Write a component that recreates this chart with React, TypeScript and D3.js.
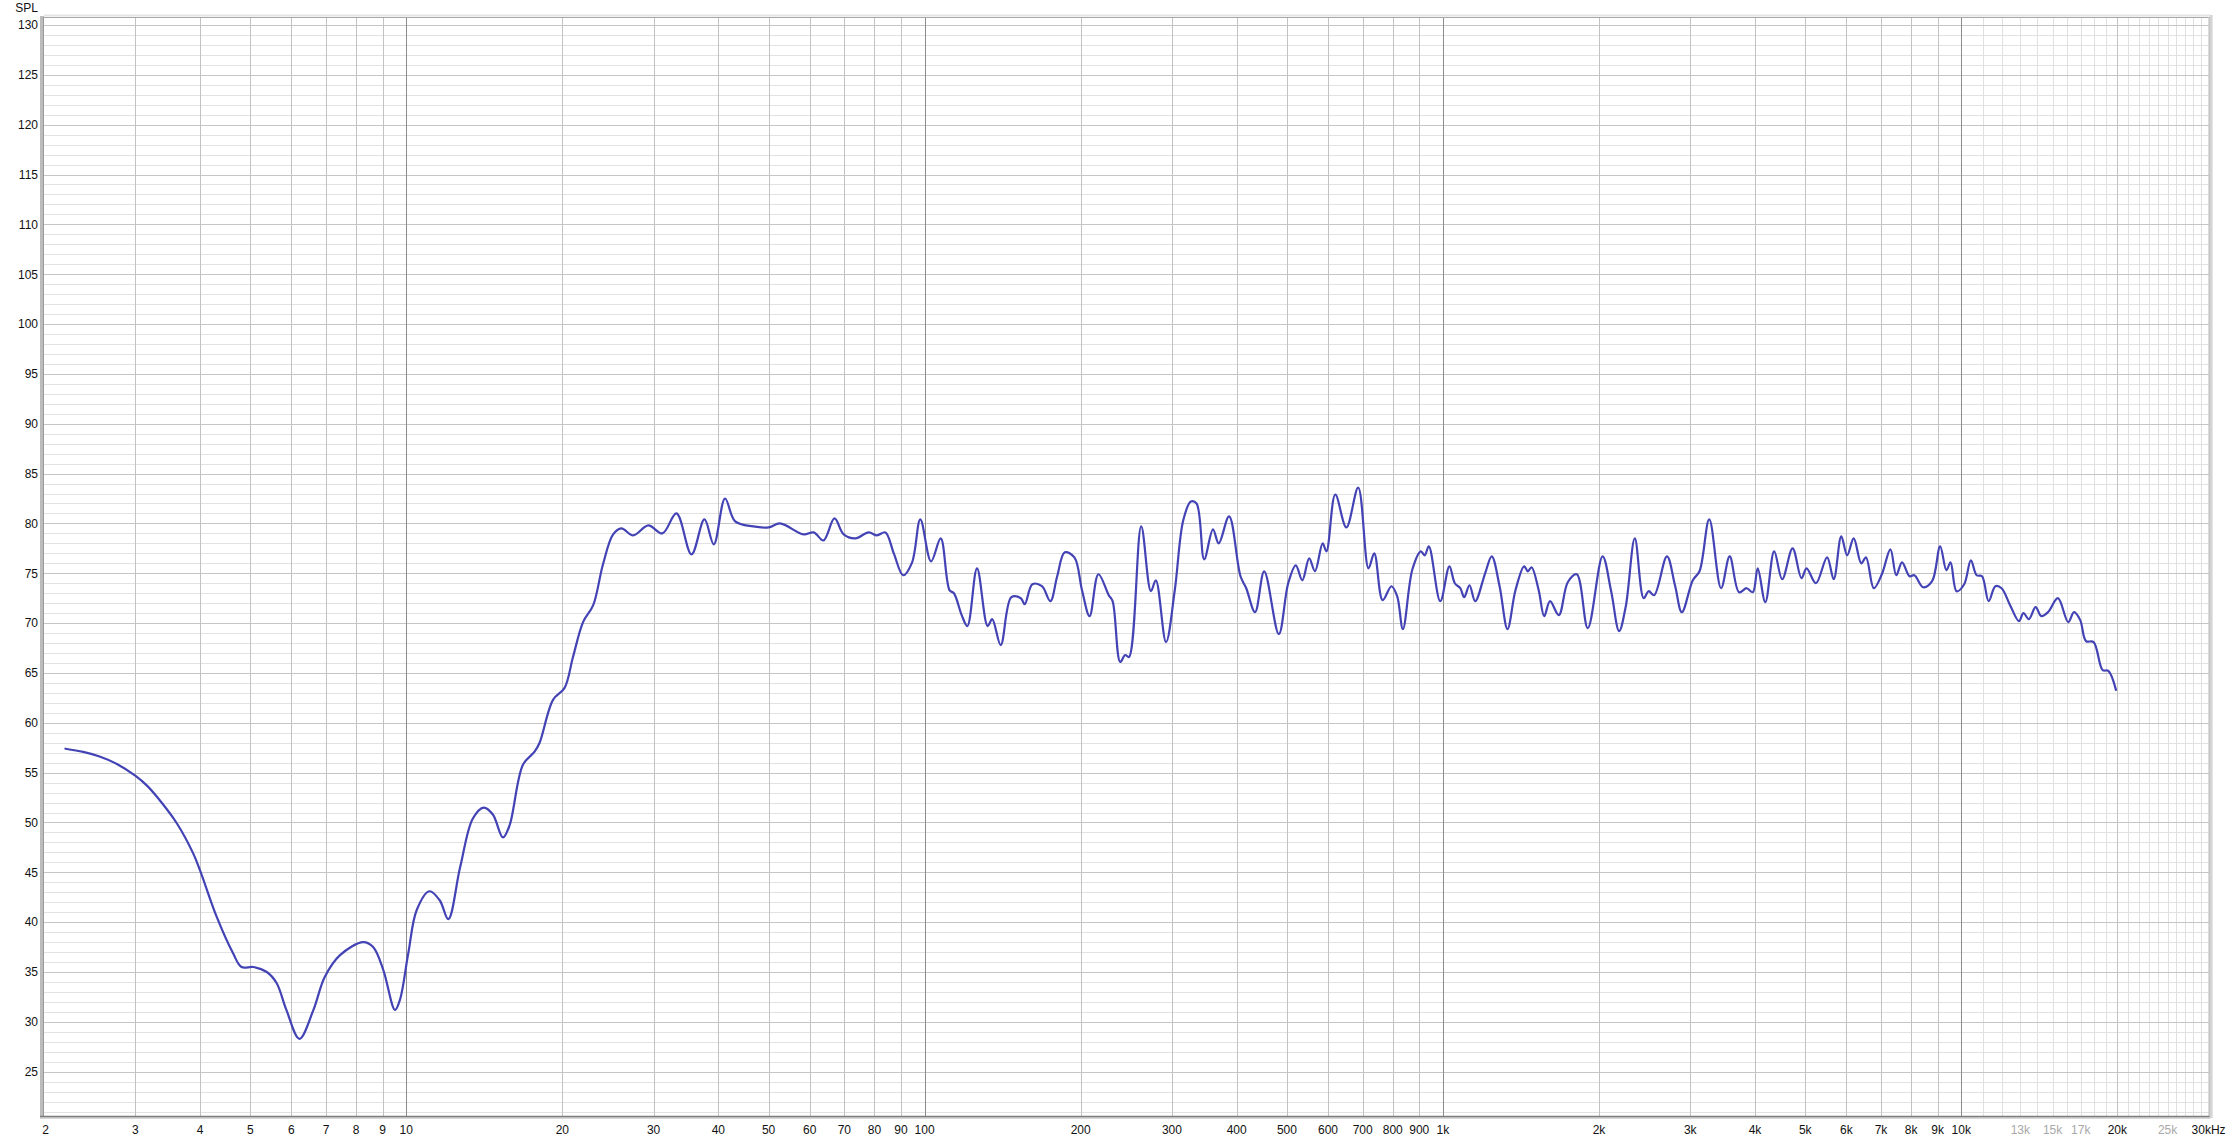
import React from "react";
import * as d3 from "d3";

// Frequency response samples (Hz) and levels (dB SPL)
const freqs: number[] = [
  2.2, 2.38, 2.56, 2.77, 3.0, 3.16, 3.3, 3.61, 3.88, 4.0, 4.31, 4.63, 4.81, 5.07, 5.38, 5.62, 5.87, 6.22, 6.62, 6.96, 7.45, 8.26, 8.63, 9.03, 9.51, 9.72,
  10.09, 10.47, 11.08, 11.6, 12.05, 12.7, 13.44, 14.11, 14.69, 15.36, 15.82, 16.79, 17.68, 18.08, 19.19, 20.2, 20.97, 21.93, 22.94,
  23.96, 25.06, 26.0, 27.4, 29.3, 31.2, 33.2, 35.5, 37.6, 39.2, 41.2, 43.1, 46.7, 50, 52.6, 58.4, 61.1, 63.8, 67.0, 69.8, 73.5,
  78.0, 80.9, 84.0, 87.2, 90.9, 94.6, 98.1, 102.9, 107.4, 111.7, 113.9, 117.9, 120.9, 126.2, 132.3, 135.0, 140.2, 147.0, 153.3,
  156.0, 161.4, 168.4, 174.8, 180.2, 186.4, 194.5, 201.2, 208.1, 216.4, 226.6, 230.5, 238.4, 243.7, 247.9, 261.7, 273.2, 279.3,
  292.2, 303.8, 315.4, 326.3, 334.7, 346.2, 360.0, 369.3, 386.7, 406.8, 417.3, 434.0, 452.0, 482.3, 502.8, 520.1, 535.3, 552.0,
  566.3, 586.0, 596.0, 619.8, 651.1, 686.2, 718.4, 737.0, 765.0, 795.4, 815.9, 836.9, 873.1, 906.5, 921.9, 939.2, 988.1,
  1029, 1054, 1080, 1099, 1125, 1154, 1206, 1242, 1286, 1332, 1380, 1434, 1458, 1482, 1530, 1568, 1609, 1673, 1741, 1812, 1903,
  2032, 2111, 2187, 2253, 2345, 2439, 2494, 2555, 2705, 2803, 2890, 3034, 3126, 3264, 3440, 3574, 3726, 3854, 3961, 4048, 4187,
  4355, 4513, 4726, 4917, 5029, 5242, 5509, 5674, 5867, 6023, 6200, 6413, 6549, 6780, 7027, 7299, 7490, 7686, 7948, 8120, 8442,
  8784, 9104, 9359, 9533, 9794, 10130, 10434, 10708, 10963, 11293, 11634, 11960, 12420, 12920, 13180, 13500, 13910, 14270, 14700,
  15360, 16080, 16500, 16960, 17400, 18000, 18730, 19220, 19880,
];
const spl: number[] = [
  57.4, 57.08, 56.62, 55.85, 54.7, 53.7, 52.6, 49.9, 46.9, 45.2, 40.5, 36.9, 35.5, 35.5, 35.0, 33.9, 31.2, 28.3, 31.2, 34.5, 36.7, 38.0, 37.5, 35.2, 31.2, 32.2,
  36.9, 41.2, 43.1, 42.2, 40.3, 45.5, 50.4, 51.5, 50.8, 48.5, 49.7, 55.8, 57.1, 58.0, 62.3, 63.5, 66.6, 70.1, 71.8,
  75.9, 78.9, 79.5, 78.8, 79.8, 79.0, 81.0, 76.9, 80.4, 77.9, 82.5, 80.2, 79.7, 79.6, 80.0, 78.9, 79.1, 78.3, 80.5, 78.9, 78.5,
  79.1, 78.8, 79.1, 77.0, 74.8, 76.1, 80.4, 76.2, 78.5, 73.3, 73.0, 70.8, 69.7, 75.5, 69.7, 70.4, 67.8, 72.6, 72.5,
  71.9, 73.9, 73.7, 72.2, 74.7, 77.1, 76.6, 73.3, 70.7, 74.9, 72.8, 72.2, 66.1, 66.8, 66.6, 79.7, 73.2, 74.3,
  68.1, 73.3, 80.3, 82.2, 82.0, 76.4, 79.4, 78.0, 80.7, 74.7, 73.5, 71.1, 75.2, 68.9, 74.0, 75.8, 74.3, 76.5,
  75.2, 78.0, 77.2, 82.9, 79.6, 83.6, 75.5, 77.0, 72.3, 73.7, 72.7, 69.4, 75.4, 77.2, 76.8, 77.7, 72.2,
  75.7, 74.0, 73.5, 72.6, 73.8, 72.2, 75.0, 76.7, 73.7, 69.4, 73.3, 75.7, 75.2, 75.6, 73.3, 70.7, 72.2, 70.8, 74.1, 74.9, 69.5,
  76.7, 73.2, 69.2, 71.7, 78.5, 72.5, 73.2, 72.8, 76.7, 73.8, 71.1, 74.3, 75.2, 80.4, 73.5, 76.7, 73.1, 73.5, 73.1, 75.5, 72.1,
  77.2, 74.4, 77.5, 74.5, 75.5, 74.0, 76.6, 74.4, 78.7, 76.8, 78.5, 76.0, 76.6, 73.5, 74.9, 77.4, 74.8, 76.1, 74.7, 74.8, 73.6,
  74.2, 77.7, 75.3, 76.1, 73.2, 73.9, 76.3, 74.8, 74.7, 72.2, 73.7, 73.5, 71.8, 70.2, 71.0, 70.4, 71.6, 70.7, 71.1,
  72.5, 70.1, 71.1, 70.3, 68.2, 68.1, 65.3, 65.2, 63.3,
];

// Axis ticks
const xTickValues: number[] = [
  2, 3, 4, 5, 6, 7, 8, 9, 10, 20, 30, 40, 50, 60, 70, 80, 90, 100, 200, 300, 400, 500, 600, 700, 800, 900, 1000,
  2000, 3000, 4000, 5000, 6000, 7000, 8000, 9000, 10000, 13000, 15000, 17000, 20000, 25000, 30000,
];
const xTickLabels: string[] = [
  "2", "3", "4", "5", "6", "7", "8", "9", "10", "20", "30", "40", "50", "60", "70", "80", "90", "100", "200", "300", "400",
  "500", "600", "700", "800", "900", "1k", "2k", "3k", "4k", "5k", "6k", "7k", "8k", "9k", "10k", "13k", "15k", "17k", "20k",
  "25k", "30kHz",
];
const xGreyLabels: string[] = ["13k", "15k", "17k", "25k"];
const yTickValues: number[] = [25, 30, 35, 40, 45, 50, 55, 60, 65, 70, 75, 80, 85, 90, 95, 100, 105, 110, 115, 120, 125, 130];
const yAxisTitle = "SPL";

const W = 2230;
const H = 1140;
const L = 44;
const R = 2208.6;
const T = 17.3;
const B = 1116;

export default function App() {
  const x = d3.scaleLog().domain([2, 30000]).range([L, R]);
  const y = d3.scaleLinear().domain([25, 130]).range([1071.7, 25]);
  const yBottom = y.invert(B);
  const yTop = y.invert(T);

  // grid lines
  const hMinor: number[] = [];
  const hMajor: number[] = [];
  for (let v = Math.ceil(yBottom); v <= yTop; v++) {
    if (v % 5 === 0) hMajor.push(v);
    else hMinor.push(v);
  }
  const vDecade: number[] = [];
  const vMajor: number[] = [];
  const vMinor: number[] = [];
  for (let d = 1; d <= 10000; d *= 10) {
    for (let m = 1; m <= 9; m++) {
      const f = m * d;
      if (f <= 2 || f >= 30000) continue;
      if (m === 1) vDecade.push(f);
      else vMajor.push(f);
    }
  }
  for (let f = 11000; f < 30000; f += 1000) {
    if (f % 10000 !== 0) vMinor.push(f);
  }

  const pts = freqs.map((f, i) => [f, spl[i]] as [number, number]);
  const line = d3
    .line<[number, number]>()
    .x((d) => x(d[0]))
    .y((d) => y(d[1]))
    .curve(d3.curveCatmullRom.alpha(0.5));

  const font = "'Liberation Sans', Arial, sans-serif";

  return (
    <svg
      width={W}
      height={H}
      style={{ position: "absolute", left: 0, top: 0, background: "#fff" }}
      fontFamily={font}
    >
      <rect x={0} y={0} width={W} height={H} fill="#fff" />
      {/* minor grid */}
      {hMinor.map((v) => (
        <line key={"hm" + v} x1={L} x2={R} y1={Math.round(y(v)) + 0.5} y2={Math.round(y(v)) + 0.5} stroke="#e2e2e2" />
      ))}
      {vMinor.map((f) => (
        <line key={"vm" + f} x1={Math.round(x(f)) + 0.5} x2={Math.round(x(f)) + 0.5} y1={T} y2={B} stroke="#e0e0e0" />
      ))}
      {/* major grid */}
      {hMajor.map((v) => (
        <line key={"hM" + v} x1={L} x2={R} y1={Math.round(y(v)) + 0.5} y2={Math.round(y(v)) + 0.5} stroke="#c6c6c6" />
      ))}
      {vMajor.map((f) => (
        <line key={"vM" + f} x1={Math.round(x(f)) + 0.5} x2={Math.round(x(f)) + 0.5} y1={T} y2={B} stroke="#c2c2c2" />
      ))}
      {vDecade.map((f) => (
        <line key={"vD" + f} x1={Math.round(x(f)) + 0.5} x2={Math.round(x(f)) + 0.5} y1={T} y2={B} stroke="#8c8c8c" />
      ))}

      {/* frame with bevel / shadow */}
      <line x1={L} x2={R + 1} y1={15.5} y2={15.5} stroke="#e4e4e4" strokeWidth={2} />
      <line x1={L} x2={R} y1={17.5} y2={17.5} stroke="#a8a8a8" />
      <line x1={R + 2.5} x2={R + 2.5} y1={15} y2={B + 2} stroke="#d4d4d4" strokeWidth={3} />
      <line x1={R + 0.5} x2={R + 0.5} y1={17} y2={B} stroke="#a8a8a8" />
      <rect x={40} y={16} width={4} height={B - 16 + 2} fill="#bcbcbc" />
      <line x1={43.5} x2={43.5} y1={17} y2={B} stroke="#9a9a9a" />
      <line x1={40} x2={R + 2} y1={B + 2} y2={B + 2} stroke="#d8d8d8" strokeWidth={2} />
      <line x1={40} x2={R + 1} y1={B + 0.5} y2={B + 0.5} stroke="#7c7c7c" strokeWidth={1.5} />

      {/* curve */}
      <path d={line(pts) || ""} fill="none" stroke="#4343b5" strokeWidth={2.2} strokeLinejoin="round" strokeLinecap="round" />

      {/* y axis labels */}
      {yTickValues.map((v) => (
        <text key={"yl" + v} x={38} y={y(v) + 4.3} textAnchor="end" fontSize={12} fill="#111">
          {v}
        </text>
      ))}
      <text x={38} y={11.5} textAnchor="end" fontSize={12} fill="#111">
        {yAxisTitle}
      </text>

      {/* x axis labels */}
      {xTickValues.map((f, i) => (
        <text
          key={"xl" + f}
          x={x(f) + (i === 0 ? 1.5 : 0)}
          y={1133.5}
          textAnchor="middle"
          fontSize={12}
          fill={xGreyLabels.includes(xTickLabels[i]) ? "#a8a8a8" : "#111"}
        >
          {xTickLabels[i]}
        </text>
      ))}
    </svg>
  );
}
